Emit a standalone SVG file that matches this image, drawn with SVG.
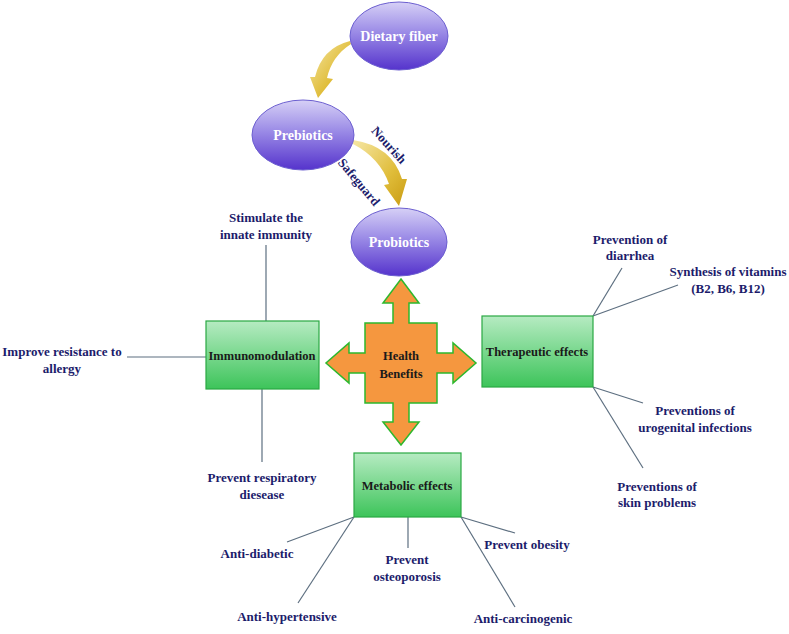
<svg xmlns="http://www.w3.org/2000/svg" width="789" height="634" viewBox="0 0 789 634">
<defs>
<linearGradient id="gEll" x1="0" y1="0" x2="0" y2="1">
<stop offset="0" stop-color="#d6d0f6"/>
<stop offset="0.45" stop-color="#9a8ae6"/>
<stop offset="1" stop-color="#5533cc"/>
</linearGradient>
<linearGradient id="gBox" x1="0" y1="0" x2="0" y2="1">
<stop offset="0" stop-color="#b6ebc2"/>
<stop offset="1" stop-color="#3dc45a"/>
</linearGradient>
<linearGradient id="gGold" x1="0" y1="0" x2="1" y2="1">
<stop offset="0" stop-color="#f6e7a6"/>
<stop offset="0.6" stop-color="#e0bd3a"/>
<stop offset="1" stop-color="#c99b12"/>
</linearGradient>
<style>
.ell{fill:url(#gEll);stroke:#6c5fd0;stroke-width:1}
.etx{font-family:"Liberation Serif",serif;font-weight:bold;font-size:14px;fill:#ffffff;text-anchor:middle}
.box{fill:url(#gBox);stroke:#2aa843;stroke-width:1.2}
.btx{font-family:"Liberation Serif",serif;font-weight:bold;font-size:12.5px;fill:#1a1a1a;text-anchor:middle}
.lbl{font-family:"Liberation Serif",serif;font-weight:bold;font-size:13px;fill:#1c1c6b;text-anchor:middle}
.ln{stroke:#5d6f80;stroke-width:1.2;fill:none}
.gold{fill:url(#gGold)}
</style>
</defs>

<g id="connectors">
<path class="gold" d="M350,41 Q322,48 315,77 L310,77 L318,98 L333,79 L327,78 Q332,56 351,44 Z"/>
<path class="gold" d="M353,140 Q392,146 402,179 L407,179 L399,206 L384,185 L389,184 Q380,158 353,144 Z"/>
<line class="ln" x1="266" y1="245" x2="266" y2="321"/>
<line class="ln" x1="127" y1="357" x2="206" y2="357"/>
<line class="ln" x1="262" y1="389" x2="262" y2="462"/>
<line class="ln" x1="593" y1="316" x2="622" y2="268"/>
<line class="ln" x1="593" y1="316" x2="678" y2="285"/>
<line class="ln" x1="593" y1="387" x2="643" y2="403"/>
<line class="ln" x1="593" y1="387" x2="643" y2="468"/>
<line class="ln" x1="354" y1="517" x2="287" y2="542"/>
<line class="ln" x1="354" y1="517" x2="298" y2="603"/>
<line class="ln" x1="408" y1="517" x2="408" y2="548"/>
<line class="ln" x1="461" y1="517" x2="515" y2="533"/>
<line class="ln" x1="461" y1="517" x2="515" y2="607"/>
<text class="lbl" font-size="12" transform="translate(388,146) rotate(48)" dominant-baseline="middle">Nourish</text>
<text class="lbl" font-size="12" transform="translate(358,183) rotate(50)" dominant-baseline="middle">Safeguard</text>
</g>

<g id="dietary-fiber">
<ellipse class="ell" cx="399" cy="36" rx="49" ry="34"/>
<text class="etx" x="399" y="41">Dietary fiber</text>
</g>
<g id="prebiotics">
<ellipse class="ell" cx="303" cy="135" rx="51" ry="35"/>
<text class="etx" x="303" y="140">Prebiotics</text>
</g>
<g id="probiotics">
<ellipse class="ell" cx="399" cy="242" rx="48" ry="34"/>
<text class="etx" x="399" y="247">Probiotics</text>
</g>

<g id="health-benefits">
<path d="M401,279 L419,303 L409,303 L409,323 L437,323 L437,353 L453,353 L453,343 L476,363 L453,383 L453,373 L437,373 L437,403 L409,403 L409,422 L419,422 L401,445 L383,422 L393,422 L393,403 L365,403 L365,373 L349,373 L349,383 L326,363 L349,343 L349,353 L365,353 L365,323 L393,323 L393,303 L383,303 Z" fill="#f5973f" stroke="#2db82d" stroke-width="1.5" stroke-linejoin="miter"/>
<text class="btx" font-size="14" x="401" y="360">Health</text>
<text class="btx" font-size="14" x="401" y="378">Benefits</text>
</g>

<g id="immunomodulation">
<rect class="box" x="206" y="321" width="113" height="68"/>
<text class="btx" x="262" y="360">Immunomodulation</text>
</g>
<g id="therapeutic-effects">
<rect class="box" x="482" y="316" width="111" height="71"/>
<text class="btx" x="537" y="356">Therapeutic effects</text>
</g>
<g id="metabolic-effects">
<rect class="box" x="354" y="453" width="107" height="64"/>
<text class="btx" font-size="11.5" x="407" y="490">Metabolic effects</text>
</g>

<g id="stimulate">
<text class="lbl" x="266" y="222">Stimulate the</text>
<text class="lbl" x="266" y="239">innate immunity</text>
</g>
<g id="improve-resistance">
<text class="lbl" x="62" y="356">Improve resistance to</text>
<text class="lbl" x="62" y="373">allergy</text>
</g>
<g id="prevent-respiratory">
<text class="lbl" x="262" y="482">Prevent respiratory</text>
<text class="lbl" x="262" y="499">diesease</text>
</g>
<g id="prevention-diarrhea">
<text class="lbl" x="630" y="244">Prevention of</text>
<text class="lbl" x="630" y="260">diarrhea</text>
</g>
<g id="synthesis-vitamins">
<text class="lbl" x="728" y="276">Synthesis of vitamins</text>
<text class="lbl" x="728" y="293">(B2, B6, B12)</text>
</g>
<g id="urogenital">
<text class="lbl" x="695" y="415">Preventions of</text>
<text class="lbl" x="695" y="432">urogenital infections</text>
</g>
<g id="skin">
<text class="lbl" x="657" y="491">Preventions of</text>
<text class="lbl" x="657" y="507">skin problems</text>
</g>
<g id="anti-diabetic">
<text class="lbl" x="257" y="558">Anti-diabetic</text>
</g>
<g id="anti-hypertensive">
<text class="lbl" x="287" y="621">Anti-hypertensive</text>
</g>
<g id="osteoporosis">
<text class="lbl" x="407" y="564">Prevent</text>
<text class="lbl" x="407" y="581">osteoporosis</text>
</g>
<g id="obesity">
<text class="lbl" x="527" y="549">Prevent obesity</text>
</g>
<g id="anti-carcinogenic">
<text class="lbl" x="523" y="623">Anti-carcinogenic</text>
</g>
</svg>
